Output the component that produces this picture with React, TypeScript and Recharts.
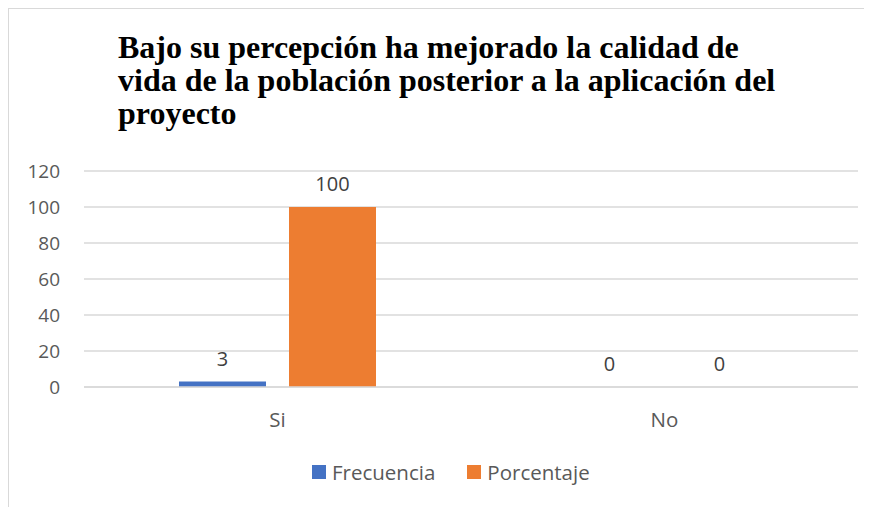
import React from 'react'
import { BarChart, Bar, XAxis, YAxis, CartesianGrid, LabelList } from 'recharts'

const categories = ['Si', 'No']
const frecuencia = [3, 0]
const porcentaje = [100, 0]
const yTicks = [0, 20, 40, 60, 80, 100, 120]
const seriesNames = ['Frecuencia', 'Porcentaje']

const TITLE_LINES = [
  'Bajo su percepción ha mejorado la calidad de',
  'vida de la población posterior a la aplicación del',
  'proyecto',
]

const BLUE = '#4472C4'
const ORANGE = '#ED7D31'
const SERIES_COLORS = [BLUE, ORANGE]
const AXIS_TEXT = '#595959'
const LABEL_TEXT = '#404040'
const GRID = '#D9D9D9'
const FONT = '"Open Sans", Calibri, sans-serif'

const data = categories.map((name, i) => ({
  name,
  Frecuencia: frecuencia[i],
  Porcentaje: porcentaje[i],
}))

export default function App() {
  return (
    <div
      style={{
        position: 'relative',
        width: 863,
        height: 498,
        borderLeft: `1px solid ${GRID}`,
        borderTop: `1px solid ${GRID}`,
        background: '#fff',
        overflow: 'hidden',
      }}
    >
      <div
        style={{
          position: 'absolute',
          left: 109,
          top: 22,
          fontFamily: '"Liberation Serif", "Times New Roman", serif',
          fontWeight: 'bold',
          fontSize: 32,
          lineHeight: '33px',
          color: '#000',
          whiteSpace: 'nowrap',
        }}
      >
        {TITLE_LINES.map((l) => (
          <div key={l}>{l}</div>
        ))}
      </div>
      <BarChart
        width={863}
        height={498}
        data={data}
        margin={{ top: 162, right: 14, bottom: 90, left: 0 }}
        barGap={23}
        barSize={87}
      >
        <CartesianGrid vertical={false} stroke={GRID} strokeWidth={1.5} />
        <XAxis
          dataKey="name"
          height={30}
          axisLine={{ stroke: GRID, strokeWidth: 1.5 }}
          tickLine={false}
          tickSize={0}
          tickMargin={25}
          tick={{ fill: AXIS_TEXT, fontSize: 20.5, fontFamily: FONT }}
        />
        <YAxis
          domain={[0, 120]}
          ticks={yTicks}
          width={75}
          axisLine={false}
          tickLine={false}
          tickSize={0}
          tickMargin={24}
          tick={{ fill: AXIS_TEXT, fontSize: 19, fontFamily: FONT }}
        />
        {seriesNames.map((s, i) => (
          <Bar key={s} dataKey={s} fill={SERIES_COLORS[i]} minPointSize={0.01} isAnimationActive={false}>
            <LabelList dataKey={s} position="top" offset={16} fill={LABEL_TEXT} fontSize={20} fontFamily={FONT} />
          </Bar>
        ))}
      </BarChart>
      <div
        style={{
          position: 'absolute',
          left: 303,
          top: 452,
          display: 'flex',
          alignItems: 'center',
          fontFamily: FONT,
          fontSize: 20.5,
          color: AXIS_TEXT,
        }}
      >
        {seriesNames.map((s, i) => (
          <div key={s} style={{ display: 'flex', alignItems: 'center', marginRight: i === 0 ? 32 : 0 }}>
            <span style={{ display: 'inline-block', width: 14, height: 14, background: SERIES_COLORS[i], marginRight: 6 }} />
            <span style={{ lineHeight: '22px' }}>{s}</span>
          </div>
        ))}
      </div>
    </div>
  )
}
